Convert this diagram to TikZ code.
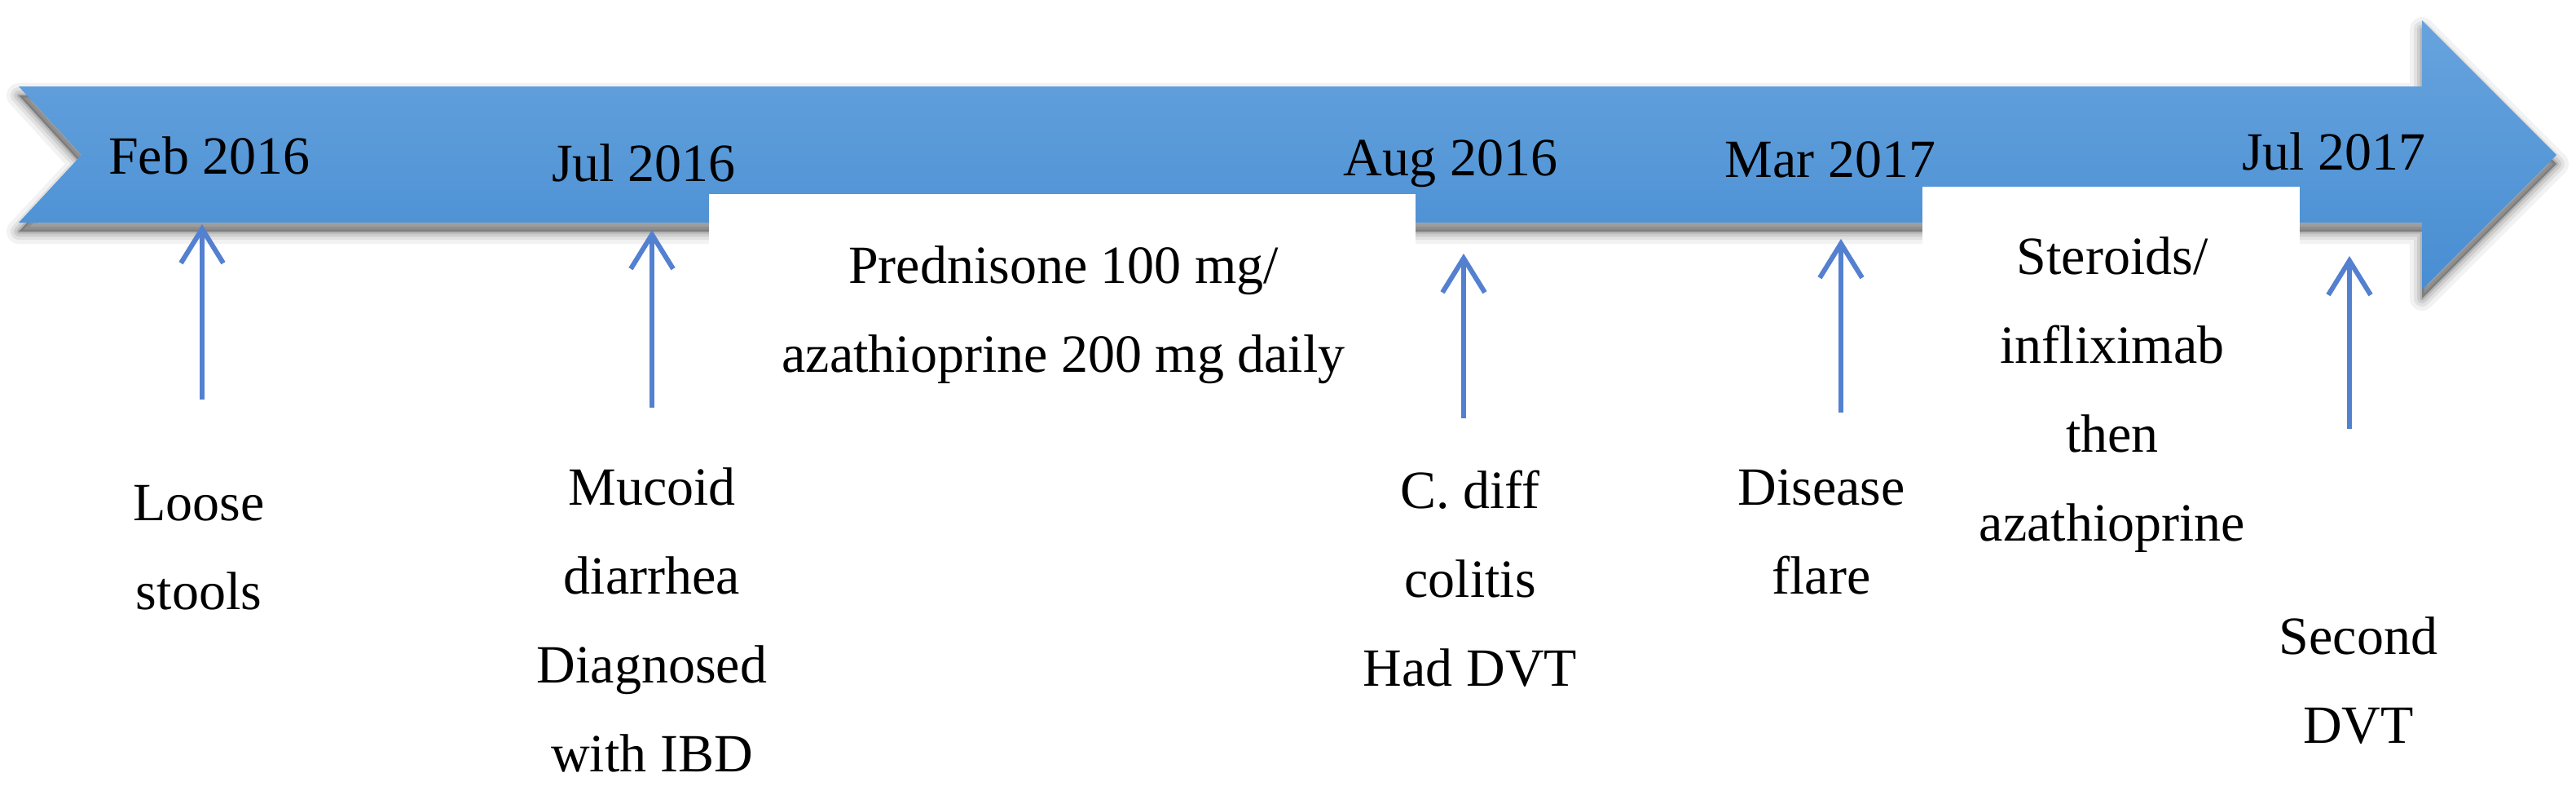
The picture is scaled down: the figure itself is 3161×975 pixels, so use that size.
\documentclass[tikz,border=0pt]{standalone}
\usepackage{fontspec}
\setmainfont{Liberation Serif}
\usetikzlibrary{arrows.meta}
\definecolor{arrtop}{RGB}{103,163,222}
\definecolor{arrbot}{RGB}{72,142,210}
\definecolor{connblue}{RGB}{84,128,208}
\tikzset{
  txt/.style={font=\fontsize{16.5pt}{27.25pt}\selectfont, inner sep=0pt, align=center, anchor=base},
  conn/.style={draw=connblue, line width=1.5pt, -{Straight Barb[length=10.5pt,width=13pt,line width=1.5pt]}},
  whitebox/.style={fill=white, draw=none, inner sep=0pt}
}
\begin{document}
\begin{tikzpicture}[x=0.25pt,y=-0.25pt]
\useasboundingbox (0,0) rectangle (3161,975);
% soft shadow of the timeline arrow
\begin{scope}[shift={(0,11)}]
  \foreach \w/\o in {30/0.05, 20/0.07, 12/0.09, 5/0.12}{
    \draw[black, draw opacity=\o, line width=\w*0.25pt, line join=round]
      (23,106) -- (2972,106) -- (2972,25) -- (3137,190) -- (2972,355) -- (2972,273) -- (23,273) -- (100,190) -- cycle;
  }
  \fill[black, opacity=0.3]
      (23,106) -- (2972,106) -- (2972,25) -- (3137,190) -- (2972,355) -- (2972,273) -- (23,273) -- (100,190) -- cycle;
\end{scope}
% timeline arrow
\shade[top color=arrtop, bottom color=arrbot]
  (23,106) -- (2972,106) -- (2972,25) -- (3137,190) -- (2972,355) -- (2972,273) -- (23,273) -- (100,190) -- cycle;
% white text boxes over the arrow
\node[whitebox, minimum width=216.75pt, minimum height=63pt] (box1) at (1303.5,364) {};
\node[whitebox, minimum width=115.75pt, minimum height=115.25pt] (box2) at (2590.5,459.5) {};
% dates
\node[txt] (d1) at (257,213) {Feb 2016};
\node[txt] (d2) at (790,222) {Jul 2016};
\node[txt] (d3) at (1780,215) {Aug 2016};
\node[txt] (d4) at (2246,217) {Mar 2017};
\node[txt] (d5) at (2864,208) {Jul 2017};
% treatments (anchor = baseline of last line)
\node[txt] (t1) at (1305,456) {Prednisone 100 mg/\\azathioprine 200 mg daily};
\node[txt] (t2) at (2592,663) {Steroids/\\infliximab\\then\\azathioprine};
% events
\node[txt] (e1) at (244,747) {Loose\\stools};
\node[txt] (e2) at (800,946) {Mucoid\\diarrhea\\Diagnosed\\with IBD};
\node[txt] (e3) at (1804,841) {C. diff\\colitis\\Had DVT};
\node[txt] (e4) at (2235,728) {Disease\\flare};
\node[txt] (e5) at (2894,911) {Second\\DVT};
% connectors
\coordinate (a1b) at (248,490);  \coordinate (a1t) at (248,275);
\coordinate (a2b) at (800,500);  \coordinate (a2t) at (800,282);
\coordinate (a3b) at (1796,513); \coordinate (a3t) at (1796,311);
\coordinate (a4b) at (2259,506); \coordinate (a4t) at (2259,293);
\coordinate (a5b) at (2883,526); \coordinate (a5t) at (2883,314);
\draw[conn] (a1b) -- (a1t);
\draw[conn] (a2b) -- (a2t);
\draw[conn] (a3b) -- (a3t);
\draw[conn] (a4b) -- (a4t);
\draw[conn] (a5b) -- (a5t);
\end{tikzpicture}
\end{document}
